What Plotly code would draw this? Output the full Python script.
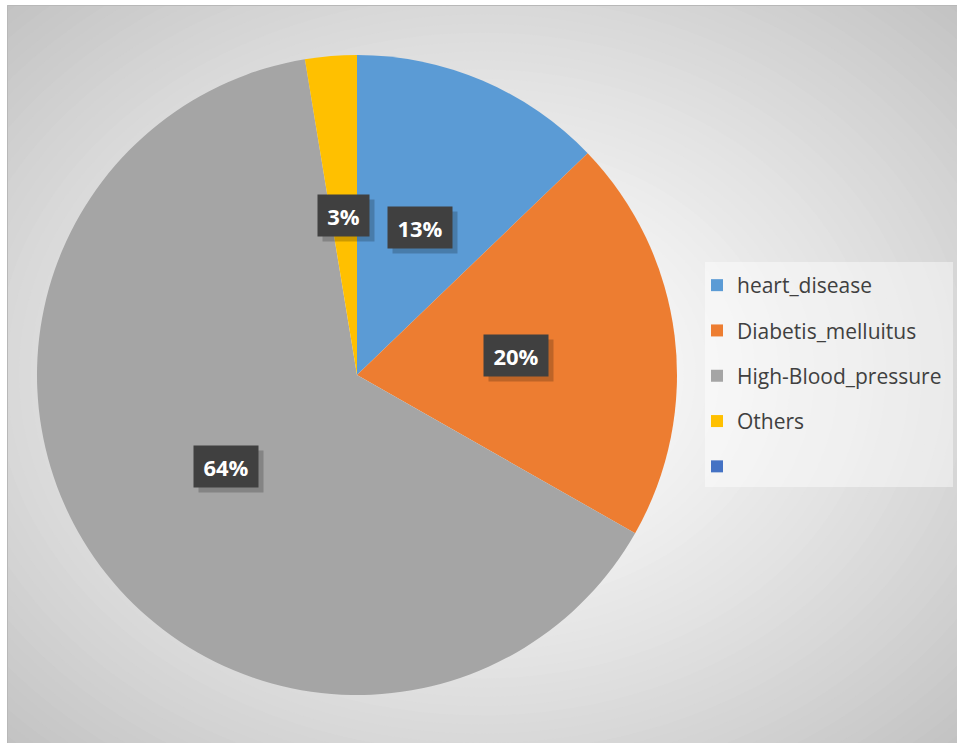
import math
import plotly.graph_objects as go

# ---------------- data ----------------
categories = ["heart_disease", "Diabetis_melluitus", "High-Blood_pressure", "Others", ""]
values = [12.8, 20.4, 64.1, 2.6, 0]
colors = ["#5B9BD5", "#ED7D31", "#A5A5A5", "#FFC000", "#4472C4"]

# ---------------- geometry (pixels) ----------------
W, H = 957, 743
pie_cx, pie_cy, pie_r = 357, 375, 320
frame_x0, frame_y0 = 7, 5


def px(x):
    return x / W


def py(y):
    return 1 - y / H


fig = go.Figure()

fig.add_trace(go.Pie(
    labels=categories,
    values=values,
    sort=False,
    direction="clockwise",
    rotation=0,
    textinfo="none",
    hoverinfo="label+percent",
    marker=dict(colors=colors, line=dict(width=0)),
    domain=dict(x=[px(pie_cx - pie_r), px(pie_cx + pie_r)],
                y=[py(pie_cy + pie_r), py(pie_cy - pie_r)]),
    showlegend=False,
))

# legend entries (one group each so that spacing can be set)
for name, col in zip(categories, colors):
    fig.add_trace(go.Scatter(
        x=[None], y=[None], mode="markers",
        name=name if name else " ",
        legendgroup=name if name else "blank",
        marker=dict(symbol="square", size=12, color=col),
        hoverinfo="skip",
    ))

# ---------------- background gradient ----------------
shapes = []
gcx, gcy = 482, 374
ga, gb = 475, 369
n = 60
rmax = 1.5
for i in range(n, 0, -1):
    r = rmax * i / n
    c = int(round(255 - 38 * r ** 1.32))
    c = max(150, min(255, c))
    shapes.append(dict(
        type="circle", xref="paper", yref="paper", layer="below",
        x0=px(gcx - r * ga), x1=px(gcx + r * ga),
        y0=py(gcy + r * gb), y1=py(gcy - r * gb),
        fillcolor=f"rgb({c},{c},{c})", line=dict(width=0),
    ))
# white strips outside the chart frame
shapes.append(dict(type="rect", xref="paper", yref="paper", layer="below",
                   x0=-0.5, x1=px(frame_x0), y0=-0.5, y1=1.5,
                   fillcolor="white", line=dict(width=0)))
shapes.append(dict(type="rect", xref="paper", yref="paper", layer="below",
                   x0=-0.5, x1=1.5, y0=py(frame_y0), y1=1.5,
                   fillcolor="white", line=dict(width=0)))
# frame border
shapes.append(dict(type="rect", xref="paper", yref="paper", layer="below",
                   x0=px(frame_x0 + 0.5), x1=px(W + 5), y0=py(H + 5), y1=py(frame_y0 + 0.5),
                   fillcolor="rgba(0,0,0,0)", line=dict(width=1, color="#B8B8B8")))
# legend panel
shapes.append(dict(type="rect", xref="paper", yref="paper", layer="below",
                   x0=px(705), x1=px(953), y0=py(487), y1=py(262),
                   fillcolor="rgba(255,255,255,0.45)", line=dict(width=0)))

# ---------------- data labels ----------------
annotations = []
total = sum(values)
cum = 0.0
Rx = (pie_r / W)
Ry = (pie_r / H)
for name, v in zip(categories, values):
    if v <= 0:
        continue
    mid = (cum + v / 2) / total
    cum += v
    theta = 2 * math.pi * mid
    ax = px(pie_cx) + 0.5 * Rx * math.sin(theta)
    ay = py(pie_cy) + 0.5 * Ry * math.cos(theta)
    txt = f"{round(100 * v / total)}%"
    bw = 25 + 13 * len(txt)
    annotations.append(dict(
        x=ax, y=ay, xref="paper", yref="paper", text=" ", showarrow=False,
        xanchor="center", yanchor="middle",
        width=bw, height=41, bgcolor="rgba(0,0,0,0.2)",
        xshift=5, yshift=-5, borderpad=0,
    ))
    annotations.append(dict(
        x=ax, y=ay, xref="paper", yref="paper", text=f"<b>{txt}</b>",
        xanchor="center", yanchor="middle",
        showarrow=False, width=bw, height=41, bgcolor="#404040", borderpad=0,
        font=dict(family="Open Sans", size=22, color="white"),
    ))

fig.update_layout(
    width=W, height=H,
    margin=dict(l=0, r=0, t=0, b=0),
    paper_bgcolor="white",
    plot_bgcolor="rgba(0,0,0,0)",
    xaxis=dict(visible=False),
    yaxis=dict(visible=False),
    shapes=shapes,
    annotations=annotations,
    showlegend=True,
    legend=dict(
        x=px(697), y=py(265), xanchor="left", yanchor="top",
        bgcolor="rgba(0,0,0,0)",
        font=dict(family="Open Sans", size=21, color="#404040"),
        traceorder="grouped", tracegroupgap=15,
        itemclick=False, itemdoubleclick=False,
    ),
)

fig.write_html("out.html")
